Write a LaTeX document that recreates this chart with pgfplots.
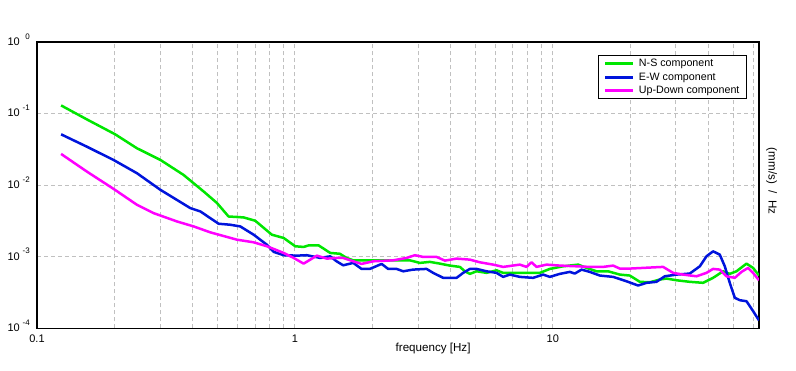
\documentclass[border=0pt]{standalone}
\usepackage{pgfplots}
\pgfplotsset{compat=1.18}
\usepackage{fontspec}
\setmainfont{Liberation Sans}
\definecolor{cgreen}{RGB}{0,230,0}
\definecolor{cblue}{RGB}{0,20,220}
\definecolor{cmag}{RGB}{255,0,255}
\definecolor{cgrid}{RGB}{192,192,192}
\newcommand{\tl}[1]{10\makebox[10pt][r]{\raisebox{6.3pt}{\fontsize{8}{8}\selectfont #1}}}
\begin{document}
\begin{tikzpicture}
\path[use as bounding box] (-37pt,-42pt) rectangle (759pt,328.3pt);
\begin{axis}[
  name=ax, at={(0,0)}, anchor=south west,
  scale only axis, width=722pt, height=286.3pt,
  xmode=log, ymode=log,
  xmin=0.1, xmax=63, ymin=1e-4, ymax=1,
  xtick={0.1,1,10}, xticklabels={0.1,1,10},
  minor xtick={0.2,0.3,0.4,0.5,0.6,0.7,0.8,0.9,2,3,4,5,6,7,8,9,20,30,40,50,60},
  ytick={1e-4,1e-3,1e-2,1e-1,1},
  yticklabels={\tl{-4},\tl{-3},\tl{-2},\tl{-1},\tl{0}},
  minor ytick={},
  major tick length=0pt, minor tick length=0pt,
  xmajorgrids, xminorgrids, ymajorgrids,
  major grid style={cgrid, dash pattern=on 4pt off 3pt, line width=0.9pt},
  minor grid style={cgrid, dash pattern=on 4pt off 3pt, line width=0.9pt},
  axis line style={black, line width=1.3pt},
  tick label style={font=\fontsize{11}{12}\selectfont},
  xticklabel style={anchor=north, inner sep=0pt, yshift=-6pt},
  yticklabel style={anchor=base east, inner sep=0pt, xshift=-7pt, yshift=-3.3pt},
  legend style={at={(1,1)}, anchor=north east, xshift=-12.3pt, yshift=-13.3pt,
    draw=black, line width=1pt, fill=white,
    font=\fontsize{10.7}{12}\selectfont,
    inner xsep=4.9pt, inner ysep=1pt, column sep=2.4pt,
    nodes={inner sep=1.8pt, text height=7.8pt, text depth=2.25pt}},
  legend cell align=left,
  legend image code/.code={\draw[#1, line width=3pt] (0pt,0pt) -- (28pt,0pt);},
  every axis plot/.append style={line width=2.5pt, line join=round},
]
\addplot[cgreen] coordinates {
(0.124,0.130) (0.156,0.0830) (0.201,0.0513) (0.244,0.0328) (0.301,0.0225)
(0.370,0.0139) (0.443,0.00814) (0.499,0.00562) (0.553,0.00365) (0.633,0.00354)
(0.702,0.00318) (0.814,0.00203) (0.904,0.00183) (1.003,0.00140) (1.081,0.00137)
(1.130,0.00144) (1.236,0.00144) (1.370,0.00113) (1.494,0.00110) (1.586,0.000962)
(1.683,0.000891) (2.012,0.000891) (2.404,0.000891) (2.791,0.000891) (3.051,0.000820)
(3.336,0.000847) (3.648,0.000801) (3.989,0.000752) (4.361,0.000721) (4.560,0.000626)
(4.768,0.000576) (5.062,0.000626) (5.534,0.000595) (6.051,0.000646) (6.418,0.000595)
(7.233,0.000595) (8.144,0.000595) (8.905,0.000595) (9.736,0.000676) (10.96,0.000735)
(12.54,0.000776) (13.51,0.000698) (14.77,0.000626) (16.38,0.000626) (18.18,0.000563)
(19.88,0.000546) (21.74,0.000446) (23.77,0.000440) (25.98,0.000480) (27.58,0.000495)
(30.17,0.000469) (33.96,0.000446) (38.24,0.000432) (41.81,0.000507) (43.72,0.000563)
(45.72,0.000626) (48.53,0.000576) (51.52,0.000626) (56.34,0.000801) (59.76,0.000698)
(63.0,0.000546)
};
\addlegendentry{N-S component\hspace{4pt}}
\addplot[cblue] coordinates {
(0.124,0.0513) (0.156,0.0345) (0.198,0.0225) (0.244,0.0147) (0.301,0.00860)
(0.393,0.00478) (0.430,0.00429) (0.506,0.00289) (0.561,0.00280) (0.614,0.00265)
(0.692,0.00203) (0.779,0.00147) (0.827,0.00117) (0.904,0.00105) (1.018,0.001036)
(1.113,0.00105) (1.254,0.000962) (1.370,0.001013) (1.451,0.000863) (1.539,0.000759)
(1.683,0.000820) (1.813,0.000676) (1.953,0.000676) (2.168,0.000794) (2.299,0.000676)
(2.478,0.000676) (2.629,0.000626) (2.874,0.000661) (3.239,0.000676) (3.436,0.000595)
(3.757,0.000507) (4.234,0.000507) (4.491,0.000595) (4.768,0.000676) (5.062,0.000676)
(5.534,0.000626) (6.051,0.000595) (6.418,0.000523) (6.813,0.000563) (7.450,0.000523)
(8.387,0.000507) (9.171,0.000563) (9.736,0.000523) (10.64,0.000576) (11.64,0.000614)
(12.17,0.000582) (12.92,0.000661) (13.91,0.000614) (15.21,0.000546) (17.13,0.000523)
(19.31,0.000454) (21.41,0.000396) (23.08,0.000432) (25.23,0.000446) (27.17,0.000533)
(30.17,0.000563) (33.96,0.000582) (37.14,0.000735) (39.42,0.001013) (41.81,0.00119)
(44.39,0.00107) (46.42,0.000735) (48.53,0.000432) (50.75,0.000267) (53.06,0.000247)
(56.34,0.000239) (59.76,0.000174) (63.0,0.000129)
};
\addlegendentry{E-W component\hspace{4pt}}
\addplot[cmag] coordinates {
(0.124,0.0273) (0.156,0.0155) (0.198,0.00888) (0.244,0.00532) (0.283,0.00407)
(0.349,0.00311) (0.405,0.00265) (0.470,0.00219) (0.596,0.00173) (0.692,0.00159)
(0.779,0.00140) (0.904,0.00113) (0.989,0.000962) (1.081,0.000801) (1.217,0.001036)
(1.330,0.000941) (1.455,0.000962) (1.539,0.000962) (1.683,0.000863) (1.813,0.000794)
(2.012,0.000863) (2.404,0.000891) (2.710,0.000962) (2.918,0.00105) (3.142,0.000994)
(3.542,0.000994) (3.815,0.000883) (4.234,0.000941) (4.768,0.000911) (5.213,0.000836)
(5.870,0.000776) (6.418,0.000721) (7.450,0.000776) (7.909,0.000721) (8.268,0.000836)
(8.646,0.000721) (9.454,0.000776) (10.64,0.000752) (12.36,0.000735) (13.91,0.000721)
(15.67,0.000721) (17.13,0.000752) (18.18,0.000683) (19.88,0.000683) (22.39,0.000698)
(26.76,0.000721) (29.27,0.000595) (31.99,0.000563) (36.06,0.000533) (39.42,0.000595)
(41.81,0.000676) (44.39,0.000661) (47.13,0.000533) (50.75,0.000507) (53.87,0.000614)
(57.15,0.000698) (59.76,0.000595) (63.0,0.000469)
};
\addlegendentry{Up-Down component\hspace{4pt}}
\end{axis}
\node[anchor=west, font=\fontsize{11.6}{13}\selectfont, inner sep=0pt] at ([xshift=-2.5pt, yshift=-20pt]ax.south) {frequency [Hz]};
\node[rotate=-90, font=\fontsize{11.6}{13}\selectfont, inner sep=0pt] at ([xshift=12.5pt, yshift=4pt]ax.east) {(mm/s)\ \ /\ \ Hz};
\end{tikzpicture}
\end{document}
